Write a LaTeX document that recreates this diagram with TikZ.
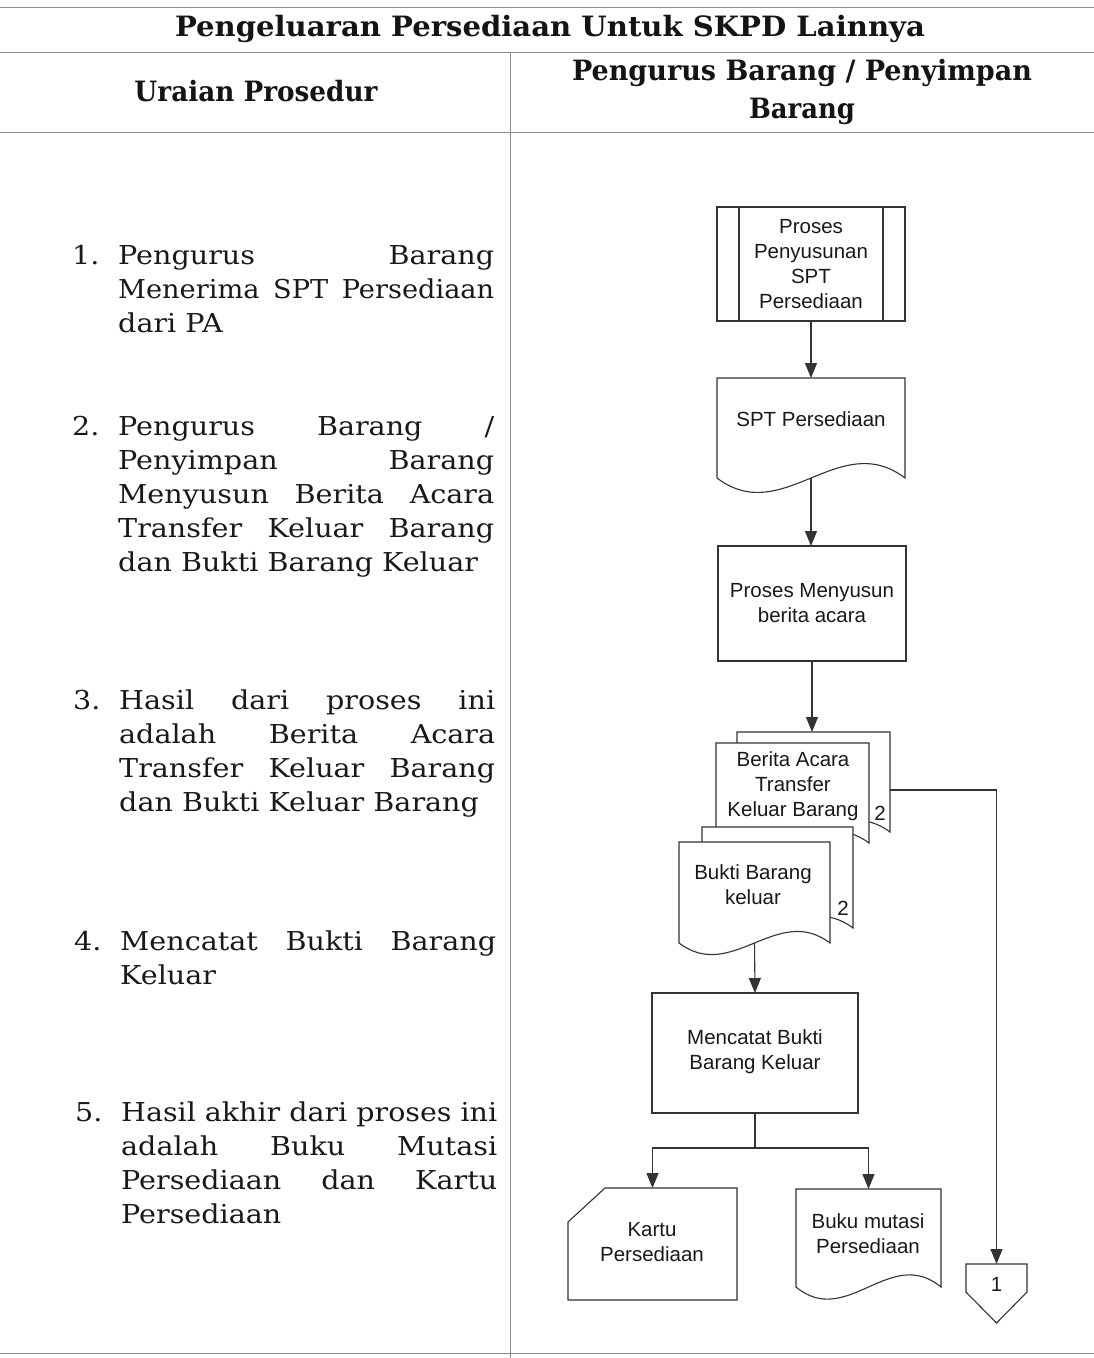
\documentclass[tikz,border=0pt]{standalone}
\usepackage{fontspec}
\usepackage{graphicx}
\setmainfont{DejaVu Serif}[FakeStretch=1.1]
\newfontfamily\hdfont{DejaVu Serif}[BoldFont={DejaVu Serif Bold}]
\setsansfont{Liberation Sans}
\usetikzlibrary{arrows.meta,calc}
\newcommand\jl[1]{\makebox[376pt][s]{#1}}
\newcommand\fitw[2]{\resizebox{#1}{\height}{#2}}
\newcommand\docshape[3][]{%
  \draw[ln,fill=white,#1] (#2.south west)
    .. controls ($(#2.south west)!0.35!(#2.south east)+(0,#3)$)
           and ($(#2.south west)!0.65!(#2.south east)+(0,-#3)$) .. (#2.south east)
    -- (#2.north east) -- (#2.north west) -- cycle;}
\begin{document}
\begin{tikzpicture}[x=1pt,y=-1pt,
  ln/.style={draw=black!80, line width=1.1pt},
  arr/.style={ln, -{Triangle[length=15pt,width=12pt]}},
  fc/.style={font=\sffamily\fontsize{20.5}{25}\selectfont, align=center, text=black!90, inner sep=0pt},
  shp/.style={inner sep=0pt, outer sep=0pt, draw=none},
  grid/.style={draw=black!45, line width=0.9pt},
  hdr/.style={font=\hdfont\bfseries\fontsize{28}{30}\selectfont, text=black!92, inner sep=0pt},
  body/.style={font=\fontsize{26}{34}\selectfont, anchor=base west, inner sep=0pt, text=black!90},
]
\useasboundingbox[fill=white] (0,0) rectangle (1094,1358);

% table lines
\draw[grid] (0,7) -- (1094,7);
\draw[grid] (0,52) -- (1094,52);
\draw[grid] (0,132) -- (1094,132);
\draw[grid] (0,1353) -- (1094,1353);
\draw[grid] (510,52) -- (510,1358);

% headers
\node[hdr] (title) at (550,29) {\fitw{750pt}{Pengeluaran Persediaan Untuk SKPD Lainnya}};
\node[hdr] (uraian) at (256,91) {\fitw{243pt}{Uraian Prosedur}};
\node[hdr] (pengurus) at (802,73) {\fitw{460pt}{Pengurus Barang / Penyimpan}};
\node[hdr] (barang) at (802,111) {\fitw{106pt}{Barang}};

% left column
\node[body] (n1) at (72,264) {1.};
\node[body] (t1a) at (118,264) {\jl{Pengurus Barang}};
\node[body] (t1b) at (118,298) {\fitw{376pt}{Menerima\hspace{0.55em}SPT\hspace{0.55em}Persediaan}};
\node[body] (t1c) at (118,332) {dari PA};

\node[body] (n2) at (72,435) {2.};
\node[body] (t2a) at (118,435) {\jl{Pengurus Barang /}};
\node[body] (t2b) at (118,469) {\jl{Penyimpan Barang}};
\node[body] (t2c) at (118,503) {\jl{Menyusun Berita Acara}};
\node[body] (t2d) at (118,537) {\jl{Transfer Keluar Barang}};
\node[body] (t2e) at (118,571) {dan Bukti Barang Keluar};

\node[body] (n3) at (73,709) {3.};
\node[body] (t3a) at (119,709) {\jl{Hasil dari proses ini}};
\node[body] (t3b) at (119,743) {\jl{adalah Berita Acara}};
\node[body] (t3c) at (119,777) {\jl{Transfer Keluar Barang}};
\node[body] (t3d) at (119,811) {dan Bukti Keluar Barang};

\node[body] (n4) at (74,950) {4.};
\node[body] (t4a) at (120,950) {\jl{Mencatat Bukti Barang}};
\node[body] (t4b) at (120,984) {Keluar};

\node[body] (n5) at (75,1121) {5.};
\node[body] (t5a) at (121,1121) {\fitw{376pt}{Hasil akhir dari proses ini}};
\node[body] (t5b) at (121,1155) {\jl{adalah Buku Mutasi}};
\node[body] (t5c) at (121,1189) {\jl{Persediaan dan Kartu}};
\node[body] (t5d) at (121,1223) {Persediaan};

% predefined process
\node[shp, minimum width=188pt, minimum height=114pt] (pre) at (811,264) {};
\draw[ln] (pre.north west) rectangle (pre.south east);
\draw[ln] ([xshift=22pt]pre.north west) -- ([xshift=22pt]pre.south west);
\draw[ln] ([xshift=-22pt]pre.north east) -- ([xshift=-22pt]pre.south east);
\node[fc] (pret) at (pre) {Proses\\Penyusunan\\SPT\\Persediaan};

% SPT document
\node[shp, minimum width=188pt, minimum height=100pt] (spt) at (811,428) {};
\docshape{spt}{50}
\node[fc] (sptt) at (811,419) {SPT Persediaan};

% process
\node[shp, draw=black!80, line width=1.1pt, minimum width=188pt, minimum height=115pt] (proc) at (812,603.5) {};
\node[fc] (proct) at (812,603) {Proses Menyusun\\berita acara};

% Berita Acara stack
\node[shp, minimum width=153pt, minimum height=100pt] (bback) at (813.5,782) {};
\node[shp, minimum width=153pt, minimum height=100pt] (bfront) at (792.5,793) {};
\docshape{bback}{40}
\docshape{bfront}{40}
\node[fc] (bft) at (793,786) {Berita Acara\\Transfer\\Keluar Barang};
\node[fc] (b2) at (880,813) {2};

% Bukti stack
\node[shp, minimum width=151pt, minimum height=101pt] (kback) at (777.5,877.5) {};
\node[shp, minimum width=151pt, minimum height=101pt] (kfront) at (754.5,892.5) {};
\docshape{kback}{40}
\docshape{kfront}{40}
\node[fc] (kft) at (753,884.5) {Bukti Barang\\keluar};
\node[fc] (k2) at (843,908) {2};

% Mencatat
\node[shp, draw=black!80, line width=1.1pt, minimum width=206pt, minimum height=120pt] (mc) at (755,1053) {};
\node[fc] (mct) at (755,1052) {Mencatat Bukti\\Barang Keluar};

% Kartu
\node[shp, minimum width=169pt, minimum height=112pt] (kartu) at (652.5,1244) {};
\draw[ln] (kartu.south west) -- ([yshift=-34pt]kartu.north west) -- ([xshift=37pt]kartu.north west)
  -- (kartu.north east) -- (kartu.south east) -- cycle;
\node[fc] (kartut) at (652,1242.5) {Kartu\\Persediaan};

% Buku
\node[shp, minimum width=145pt, minimum height=98pt] (buku) at (868.5,1238) {};
\docshape{buku}{42}
\node[fc] (bukut) at (868,1233.5) {Buku mutasi\\Persediaan};

% off-page connector
\node[shp, minimum width=61pt, minimum height=28pt] (off) at (996.5,1278) {};
\draw[ln] (off.north west) -- (off.north east) -- (off.south east) -- ($(off.south)+(0,31)$)
  -- (off.south west) -- cycle;
\node[fc] (offt) at (996.5,1284) {1};

% connectors
\draw[arr] (pre.south) -- (spt.north);
\draw[arr] (spt.south) -- (spt.south |- proc.north);
\draw[arr] (proc.south) -- (proc.south |- bback.north);
\draw[arr] ([yshift=-8pt]bback.east) -| (off.north);
\draw[arr] (kfront.south) -- (mc.north);
\coordinate (split) at ($(mc.south)+(0,35)$);
\draw[ln] (mc.south) -- (split);
\draw[arr] (split) -| (kartu.north);
\draw[arr] (split) -| (buku.north);
\end{tikzpicture}
\end{document}
